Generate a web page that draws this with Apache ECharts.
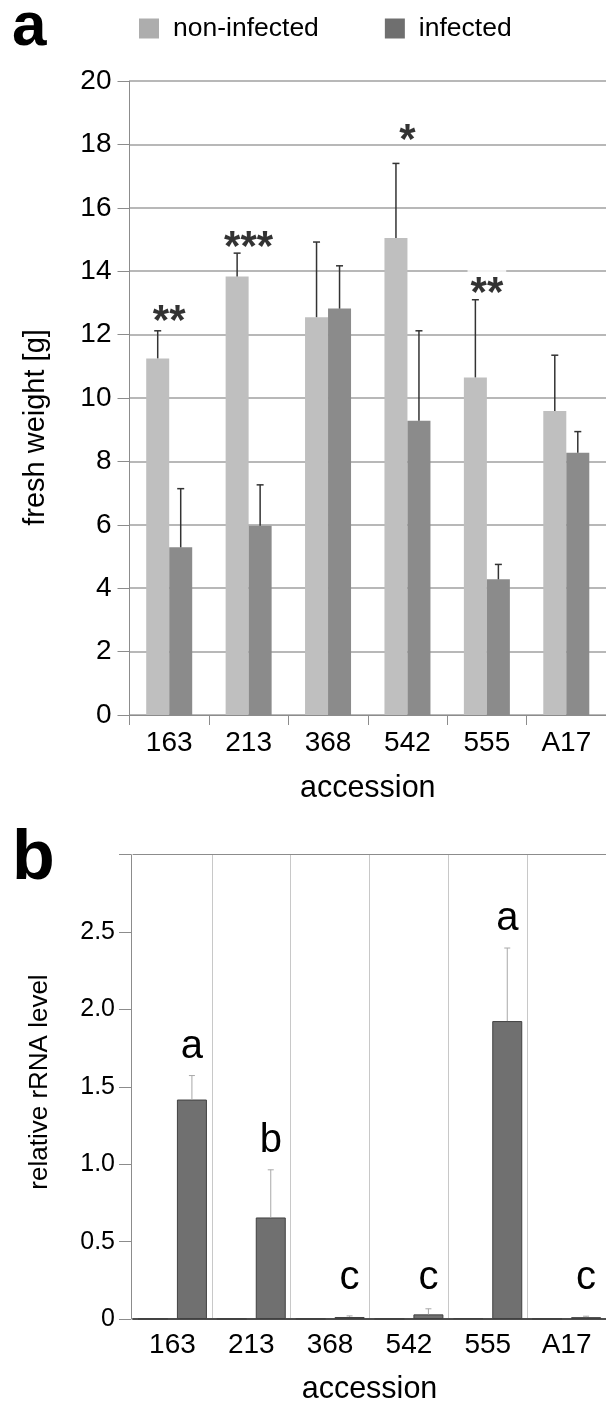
<!DOCTYPE html>
<html><head><meta charset="utf-8">
<script src="https://cdn.jsdelivr.net/npm/echarts@6/dist/echarts.min.js"></script>
<style>html,body{margin:0;padding:0;background:#fff}#c{width:606px;height:1406px}</style>
</head><body><div id="c"></div>
<script>
// ---------- data ----------
const categories = ['163', '213', '368', '542', '555', 'A17'];

// panel a: fresh weight [g]
const freshNonInfected    = [11.25, 13.83, 12.55, 15.05, 10.65, 9.59];
const freshNonInfectedTop = [12.12, 14.57, 14.92, 17.40, 13.10, 11.35]; // upper end of error bar
const freshInfected       = [5.29, 5.97, 12.82, 9.28, 4.28, 8.27];
const freshInfectedTop    = [7.14, 7.26, 14.17, 12.12, 4.75, 8.94];
const sigMarks  = ['**', '***', '', '*', '**', ''];
const sigLevels = [12.67, 15.01, null, 18.39, 13.54, null]; // where the marks sit (g)
const freshTicks = [0, 2, 4, 6, 8, 10, 12, 14, 16, 18, 20];

// panel b: relative rRNA level
const rrnaNonInfected = [0.002, 0.002, 0.002, 0.002, 0.006, 0.002];
const rrnaInfected    = [1.418, 0.656, 0.013, 0.030, 1.925, 0.012];
const rrnaInfectedTop = [1.573, 0.964, 0.020, 0.066, 2.397, 0.018];
const groupLetters = ['a', 'b', 'c', 'c', 'a', 'c'];
const rrnaTicks = [0, 0.5, 1.0, 1.5, 2.0, 2.5, 3.0];

// ---------- chart ----------
const FONT = 'Liberation Sans, Arial, sans-serif';
const chart = echarts.init(document.getElementById('c'), null, {renderer: 'canvas'});

function errorBarSeries(xi, yi, means, tops, offsetPx, capHalf, color, lw, letters) {
  return {
    type: 'custom', xAxisIndex: xi, yAxisIndex: yi, silent: true, z: 5,
    encode: {x: 0, y: [1, 2]},
    data: means.map((m, i) => [i, m, tops[i]]),
    renderItem: function (params, api) {
      const i = api.value(0);
      const p0 = api.coord([i, api.value(1)]);
      const p1 = api.coord([i, api.value(2)]);
      const x = p0[0] + offsetPx;
      const ls = {stroke: color, lineWidth: lw};
      const children = [
        {type: 'line', shape: {x1: x, y1: p0[1], x2: x, y2: p1[1]}, style: ls},
        {type: 'line', shape: {x1: x - capHalf, y1: p1[1], x2: x + capHalf, y2: p1[1]}, style: ls}
      ];
      if (letters) {
        const zero = api.coord([i, 0])[1];
        const yb = Math.min(p1[1] - 9, zero - 21);
        children.push({type: 'text', style: {
          text: letters[params.dataIndex], x: x, y: yb,
          align: 'center', verticalAlign: 'bottom',
          font: '40px ' + FONT, fill: '#000'}});
      }
      return {type: 'group', children: children};
    }
  };
}

const option = {
  backgroundColor: '#fff',
  animation: false,
  textStyle: {fontFamily: FONT},
  legend: {
    left: 134, top: 10, itemWidth: 20, itemHeight: 20, itemGap: 66,
    icon: 'rect',
    textStyle: {fontSize: 26.5, color: '#000', fontFamily: FONT, padding: [0, 0, 0, 9]},
    data: [
      {name: 'non-infected', itemStyle: {color: '#adadad'}},
      {name: 'infected', itemStyle: {color: '#6f6f6f'}}
    ]
  },
  graphic: [
    {type: 'text', x: 12, y: 28, style: {text: 'a', font: 'bold 62px ' + FONT, fill: '#000', align: 'left', verticalAlign: 'middle'}},
    {type: 'text', x: 12, y: 860, style: {text: 'b', font: 'bold 70px ' + FONT, fill: '#000', align: 'left', verticalAlign: 'middle'}},
    {type: 'text', x: 36, y: 427.5, rotation: Math.PI / 2, style: {text: 'fresh weight [g]', font: '29px ' + FONT, fill: '#000', align: 'center', verticalAlign: 'middle'}},
    {type: 'text', x: 40, y: 1082, rotation: Math.PI / 2, style: {text: 'relative rRNA level', font: '26px ' + FONT, fill: '#000', align: 'center', verticalAlign: 'middle'}}
  ],
  grid: [
    {left: 129.5, top: 81, width: 484, height: 634},
    {left: 133, top: 854.7, width: 482, height: 470}
  ],
  xAxis: [
    {
      gridIndex: 0, type: 'category', data: categories,
      axisLine: {lineStyle: {color: '#8c8c8c', width: 1}},
      axisTick: {show: true, length: 10, lineStyle: {color: '#8c8c8c'}},
      axisLabel: {fontSize: 28, color: '#000', margin: 14, fontFamily: FONT},
      name: 'accession', nameLocation: 'middle', nameGap: 58,
      nameTextStyle: {fontSize: 30.5, color: '#000', fontFamily: FONT}
    },
    {
      gridIndex: 1, type: 'category', data: categories,
      axisLine: {lineStyle: {color: '#4d4d4d', width: 2}},
      axisTick: {show: false},
      axisLabel: {fontSize: 28, color: '#000', margin: 12, fontFamily: FONT},
      splitLine: {show: true, interval: function (idx) { return idx > 0; }, lineStyle: {color: '#c8c8c8', width: 1}},
      name: 'accession', nameLocation: 'middle', nameGap: 55,
      nameTextStyle: {fontSize: 30.5, color: '#000', fontFamily: FONT}
    },
    {
      gridIndex: 1, type: 'category', data: categories, position: 'top',
      axisLine: {show: true, lineStyle: {color: '#8c8c8c', width: 1}},
      axisTick: {show: false}, axisLabel: {show: false}, splitLine: {show: false}
    }
  ],
  yAxis: [
    {
      gridIndex: 0, type: 'value',
      min: freshTicks[0], max: freshTicks[freshTicks.length - 1], interval: freshTicks[1] - freshTicks[0],
      axisLine: {show: true, lineStyle: {color: '#8c8c8c', width: 1}},
      axisTick: {show: true, length: 12, lineStyle: {color: '#8c8c8c'}},
      axisLabel: {fontSize: 28, color: '#000', margin: 18, fontFamily: FONT},
      splitLine: {show: true, lineStyle: {color: '#a0a0a0', width: 1.5}}
    },
    {
      gridIndex: 1, type: 'value', offset: 2,
      min: rrnaTicks[0], max: rrnaTicks[rrnaTicks.length - 1], interval: rrnaTicks[1] - rrnaTicks[0],
      axisLine: {show: true, lineStyle: {color: '#8c8c8c', width: 1}},
      axisTick: {show: true, length: 12, lineStyle: {color: '#8c8c8c'}},
      axisLabel: {fontSize: 25, color: '#000', margin: 16, fontFamily: FONT,
        formatter: function (v) { return v === 0 ? '0' : (v >= rrnaTicks[rrnaTicks.length - 1] ? '' : v.toFixed(1)); }},
      splitLine: {show: false}
    }
  ],
  series: [
    {name: 'non-infected', type: 'bar', xAxisIndex: 0, yAxisIndex: 0, data: freshNonInfected,
     barWidth: 23, barGap: '0%', itemStyle: {color: '#bfbfbf'}, z: 3},
    {name: 'infected', type: 'bar', xAxisIndex: 0, yAxisIndex: 0, data: freshInfected,
     barWidth: 23, barGap: '0%', itemStyle: {color: '#8b8b8b'}, z: 3},
    errorBarSeries(0, 0, freshNonInfected, freshNonInfectedTop, -11.5, 3.5, '#333', 1.5),
    errorBarSeries(0, 0, freshInfected, freshInfectedTop, 11.5, 3.5, '#333', 1.5),
    {
      type: 'scatter', xAxisIndex: 0, yAxisIndex: 0, symbolSize: 0, silent: true, z: 4,
      data: sigLevels.map((v, i) => v == null ? null : {
        value: [i, v],
        label: i === 4 ? {backgroundColor: '#fff', padding: [8, 3, 0, 3]} : {}
      }).filter(d => d),
      label: {show: true, position: 'inside', offset: [0, 9], fontSize: 42, fontWeight: 'bold', color: '#000', fontFamily: FONT,
        formatter: function (p) { return sigMarks[p.value[0]]; }}
    },
    {name: 'non-infected', type: 'bar', xAxisIndex: 1, yAxisIndex: 1, data: rrnaNonInfected,
     barWidth: 30, barGap: '30%', itemStyle: {color: '#707070', borderColor: '#404040', borderWidth: 1}, z: 3},
    {name: 'infected', type: 'bar', xAxisIndex: 1, yAxisIndex: 1, data: rrnaInfected,
     barWidth: 30, barGap: '30%', itemStyle: {color: '#707070', borderColor: '#404040', borderWidth: 1}, z: 3},
    errorBarSeries(1, 1, rrnaInfected, rrnaInfectedTop, 19.5, 3, '#a8a8a8', 1, groupLetters)
  ]
};
chart.setOption(option);
</script>
</body></html>
